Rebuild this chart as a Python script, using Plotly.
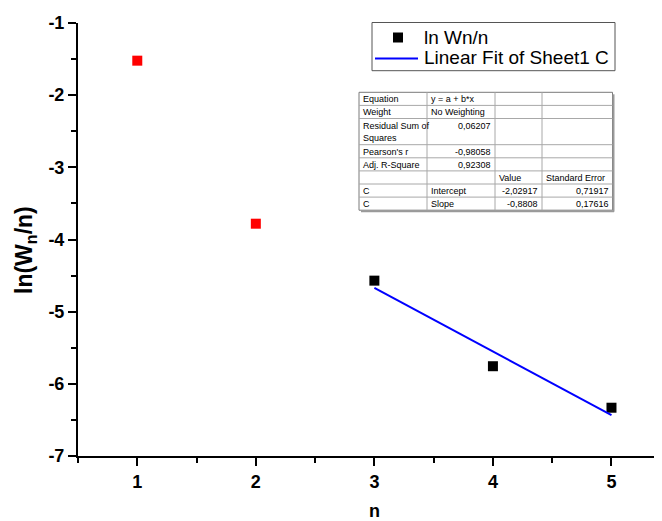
import plotly.graph_objects as go

# ---------------- data ----------------
n_fit = [3, 4, 5]
ln_fit = [-4.570, -5.756, -6.331]
n_excl = [1, 2]
ln_excl = [-1.522, -3.781]
fit_intercept = -2.02917
fit_slope = -0.8808
fit_x = [3, 5]

x_ticks = [1, 2, 3, 4, 5]
y_ticks = [-7, -6, -5, -4, -3, -2, -1]

legend_labels = ["ln Wn/n", "Linear Fit of Sheet1 C"]

tbl_col1 = ["Equation", "Weight", "Residual Sum of<br>Squares", "Pearson's r",
            "Adj. R-Square", "", "C", "C"]
tbl_col2 = ["y = a + b*x", "No Weighting", "0,06207", "-0,98058", "0,92308",
            "", "Intercept", "Slope"]
tbl_col3 = ["", "", "", "", "", "Value", "-2,02917", "-0,8808"]
tbl_col4 = ["", "", "", "", "", "Standard Error", "0,71917", "0,17616"]
tbl_units = [1, 1, 2, 1, 1, 1, 1, 1]
col2_align = ["left", "left", "right", "right", "right", "left", "left", "left"]
col3_align = ["left", "left", "left", "left", "left", "left", "right", "right"]
col4_align = ["left", "left", "left", "left", "left", "left", "right", "right"]

# ---------------- geometry (screen px; page body has an 8px margin) ----------------
OFF = 8
W, H = 662 - OFF, 521 - OFF
L, R, T, B = 78 - OFF, 0, 23 - OFF, 521 - 456
PW = W - L - R
PH = H - T - B
XMIN = 0.5
XMAX = 0.5 + PW / 118.55


def px(x):
    return (x - OFF - L) / PW


def py(y):
    return (H - B - (y - OFF)) / PH


FONT = "Arial, Liberation Sans, sans-serif"

fig = go.Figure()

fig.add_trace(go.Scatter(
    x=n_fit, y=ln_fit, mode="markers", name=legend_labels[0], showlegend=False,
    marker=dict(symbol="square", size=10, color="black", line=dict(width=0)),
))
fig.add_trace(go.Scatter(
    x=n_excl, y=ln_excl, mode="markers", showlegend=False,
    marker=dict(symbol="square", size=10, color="#ff0000", line=dict(width=0)),
))
fig.add_trace(go.Scatter(
    x=fit_x, y=[fit_intercept + fit_slope * v for v in fit_x], mode="lines",
    name=legend_labels[1], showlegend=False, line=dict(color="#0000ff", width=2),
))

axis_common = dict(
    showline=True, linewidth=2, linecolor="black", showgrid=False, zeroline=False,
    ticks="outside", ticklen=8, tickwidth=2, tickcolor="black",
    tickfont=dict(family=FONT, size=18, color="black", weight="bold"),
)

fig.update_xaxes(range=[XMIN, XMAX], tickmode="array", tickvals=x_ticks,
                 ticktext=[str(v) for v in x_ticks],
                 minor=dict(dtick=0.5, tick0=0, ticks="outside", ticklen=5,
                            tickwidth=2, tickcolor="black"),
                 **axis_common)
fig.update_yaxes(range=[-7, -1], tickmode="array", tickvals=y_ticks,
                 ticktext=[str(v) for v in y_ticks],
                 minor=dict(dtick=0.5, tick0=0, ticks="outside", ticklen=5,
                            tickwidth=2, tickcolor="black"),
                 **axis_common)

shapes = []
annotations = []

# axis titles
annotations.append(dict(text="<b>ln(W<sub>n</sub>/n)</b>", xref="paper", yref="paper",
                        x=px(25), y=py(250), xanchor="center", yanchor="middle",
                        textangle=-90, showarrow=False,
                        font=dict(family=FONT, size=23, color="black")))
annotations.append(dict(text="<b>n</b>", xref="paper", yref="paper",
                        x=px(374), y=py(511), xanchor="center", yanchor="middle",
                        showarrow=False, font=dict(family=FONT, size=18, color="black")))

# ---------------- legend box (drawn) ----------------
shapes.append(dict(type="rect", xref="paper", yref="paper",
                   x0=px(372), x1=px(615), y0=py(22.5), y1=py(70.7),
                   fillcolor="white", line=dict(color="#555555", width=1), layer="above"))
shapes.append(dict(type="rect", xref="paper", yref="paper",
                   x0=px(393), x1=px(403), y0=py(32.5), y1=py(42.5),
                   fillcolor="black", line=dict(width=0), layer="above"))
shapes.append(dict(type="line", xref="paper", yref="paper",
                   x0=px(375), x1=px(418), y0=py(58.5), y1=py(58.5),
                   line=dict(color="#0000ff", width=2), layer="above"))
for lab, yc in zip(legend_labels, [37.5, 57]):
    annotations.append(dict(text=lab, xref="paper", yref="paper", x=px(422), y=py(yc),
                            xanchor="left", yanchor="middle", showarrow=False,
                            font=dict(family=FONT, size=19, color="black")))

# ---------------- results table ----------------
col_x = [359, 427, 495, 542, 612.5]
top = 92.3
unit = 13.1
row_y = [top]
for u in tbl_units:
    row_y.append(row_y[-1] + u * unit)
bottom = row_y[-1]
grid = "#a8a8a8"

shapes.append(dict(type="rect", xref="paper", yref="paper",
                   x0=px(col_x[0]), x1=px(col_x[-1]), y0=py(top), y1=py(bottom),
                   fillcolor="white", line=dict(color="#7a7a7a", width=1), layer="above"))
shapes.append(dict(type="line", xref="paper", yref="paper",
                   x0=px(col_x[-1] + 1), x1=px(col_x[-1] + 1), y0=py(top + 2), y1=py(bottom + 1.5),
                   line=dict(color="#9a9a9a", width=2), layer="above"))
shapes.append(dict(type="line", xref="paper", yref="paper",
                   x0=px(col_x[0] + 2), x1=px(col_x[-1] + 1.5), y0=py(bottom + 1), y1=py(bottom + 1),
                   line=dict(color="#9a9a9a", width=2), layer="above"))
for yv in row_y[1:-1]:
    shapes.append(dict(type="line", xref="paper", yref="paper",
                       x0=px(col_x[0]), x1=px(col_x[-1]), y0=py(yv), y1=py(yv),
                       line=dict(color=grid, width=1), layer="above"))
for xv in col_x[1:-1]:
    shapes.append(dict(type="line", xref="paper", yref="paper",
                       x0=px(xv), x1=px(xv), y0=py(top), y1=py(bottom),
                       line=dict(color=grid, width=1), layer="above"))

cols = [(tbl_col1, ["left"] * len(tbl_col1)), (tbl_col2, col2_align),
        (tbl_col3, col3_align), (tbl_col4, col4_align)]
for ci, (vals, aligns) in enumerate(cols):
    for ri, txt in enumerate(vals):
        if not txt:
            continue
        y0r, y1r = row_y[ri], row_y[ri + 1]
        if "<br>" in txt or tbl_units[ri] == 1:
            yc = (y0r + y1r) / 2 + 0.5
        else:
            yc = y0r + unit / 2 + 0.5
        if aligns[ri] == "left":
            xa, xanc = col_x[ci] + 2, "left"
        else:
            xa, xanc = col_x[ci + 1] - 2, "right"
        annotations.append(dict(text=txt, xref="paper", yref="paper", x=px(xa), y=py(yc),
                                xanchor=xanc, yanchor="middle", align="left",
                                showarrow=False,
                                font=dict(family=FONT, size=9, color="black")))

fig.update_layout(
    width=W, height=H,
    margin=dict(l=L, r=R, t=T, b=B, pad=0, autoexpand=False),
    paper_bgcolor="white", plot_bgcolor="white",
    shapes=shapes, annotations=annotations,
    showlegend=False,
)

fig.write_html("out.html")
